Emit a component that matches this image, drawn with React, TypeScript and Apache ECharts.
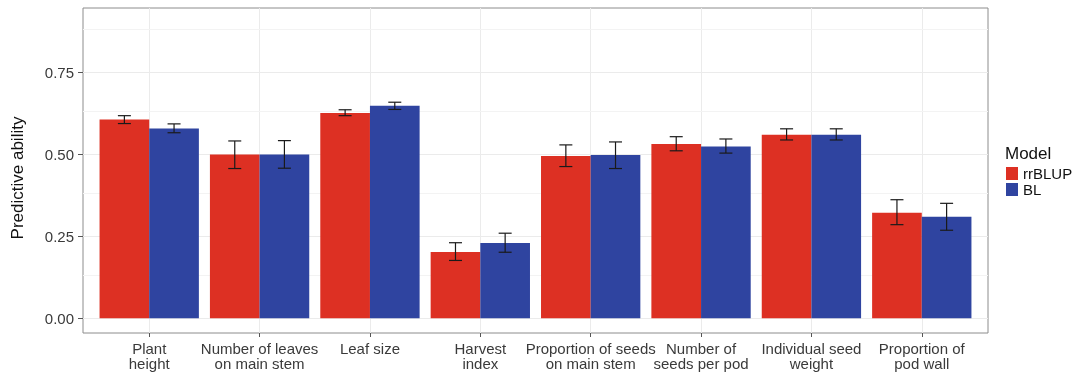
import React, { useEffect, useRef } from 'react';
import * as echarts from 'echarts';

const categories = [
  'Plant\nheight',
  'Number of leaves\non main stem',
  'Leaf size',
  'Harvest\nindex',
  'Proportion of seeds\non main stem',
  'Number of\nseeds per pod',
  'Individual seed\nweight',
  'Proportion of\npod wall',
];
const rrBLUP = [0.605, 0.499, 0.625, 0.202, 0.494, 0.531, 0.559, 0.321];
const rrBLUPLow = [0.593, 0.456, 0.617, 0.176, 0.462, 0.51, 0.543, 0.285];
const rrBLUPHigh = [0.617, 0.54, 0.635, 0.23, 0.528, 0.553, 0.577, 0.361];
const BL = [0.578, 0.499, 0.647, 0.229, 0.497, 0.523, 0.559, 0.309];
const BLLow = [0.565, 0.457, 0.636, 0.201, 0.456, 0.503, 0.543, 0.268];
const BLHigh = [0.592, 0.541, 0.658, 0.259, 0.537, 0.546, 0.577, 0.35];
const yTicks = [0, 0.25, 0.5, 0.75];
const yMinorGrid = [0.125, 0.375, 0.625, 0.875];
const xPositions = categories.map((_, i) => i);

const RED = '#DD3023';
const BLUE = '#2F44A0';
const FONT = '"Liberation Sans", Arial, Helvetica, sans-serif';

function barSeries(name: string, values: number[], color: string, side: number) {
  return {
    type: 'custom',
    name,
    z: 2,
    itemStyle: { color },
    encode: { x: 0, y: 1 },
    data: values.map((v, i) => [i, v]),
    renderItem: (_params: any, api: any) => {
      const i = api.value(0);
      const v = api.value(1);
      const a = api.coord([side < 0 ? i - 0.45 : i, v]);
      const b = api.coord([side < 0 ? i : i + 0.45, 0]);
      return {
        type: 'rect',
        shape: { x: a[0], y: a[1], width: b[0] - a[0], height: b[1] - a[1] },
        style: { fill: color },
      };
    },
  };
}

function errSeries(low: number[], high: number[], side: number) {
  return {
    type: 'custom',
    z: 3,
    silent: true,
    encode: { x: 0, y: [1, 2] },
    data: low.map((l, i) => [i, l, high[i]]),
    renderItem: (_params: any, api: any) => {
      const x = api.value(0) + side * 0.225;
      const lo = api.coord([x, api.value(1)]);
      const hi = api.coord([x, api.value(2)]);
      const hw = 6.5;
      const st = { stroke: '#1a1a1a', lineWidth: 1.2 };
      return {
        type: 'group',
        children: [
          { type: 'line', shape: { x1: lo[0], y1: lo[1], x2: hi[0], y2: hi[1] }, style: st },
          { type: 'line', shape: { x1: lo[0] - hw, y1: lo[1], x2: lo[0] + hw, y2: lo[1] }, style: st },
          { type: 'line', shape: { x1: hi[0] - hw, y1: hi[1], x2: hi[0] + hw, y2: hi[1] }, style: st },
        ],
      };
    },
  };
}

export default function App() {
  const ref = useRef<HTMLDivElement>(null);
  useEffect(() => {
    if (!ref.current) return;
    const chart = echarts.init(ref.current, undefined, { renderer: 'svg' });
    const red = barSeries('rrBLUP', rrBLUP, RED, -1) as any;
    red.markLine = {
      silent: true,
      z: 1,
      symbol: 'none',
      label: { show: false },
      lineStyle: { color: '#F3F3F3', type: 'solid', width: 1 },
      data: yMinorGrid.map((v) => ({ yAxis: v })),
    };
    chart.setOption({
      animation: false,
      textStyle: { fontFamily: FONT },
      grid: {
        left: 83,
        right: 89,
        top: 8,
        bottom: 40,
        show: true,
        borderColor: '#8C8C8C',
        borderWidth: 1,
        backgroundColor: '#fff',
      },
      xAxis: {
        type: 'value',
        min: -0.6,
        max: 7.6,
        axisLine: { show: false, onZero: false },
        axisTick: {
          show: true,
          customValues: xPositions,
          length: 4,
          lineStyle: { color: '#555' },
        },
        axisLabel: {
          customValues: xPositions,
          formatter: (v: number) => categories[Math.round(v)] ?? '',
          color: '#3a3a3a',
          fontSize: 15,
          lineHeight: 15,
          margin: 8,
          fontFamily: FONT,
        },
        splitLine: { show: true, lineStyle: { color: '#EBEBEB', width: 1 } },
      },
      yAxis: {
        type: 'value',
        min: -0.045,
        max: 0.945,
        axisLine: { show: false, onZero: false },
        axisTick: {
          show: true,
          customValues: yTicks,
          length: 5,
          lineStyle: { color: '#555' },
        },
        axisLabel: {
          customValues: yTicks,
          formatter: (v: number) => v.toFixed(2),
          color: '#3a3a3a',
          fontSize: 15,
          margin: 9,
          fontFamily: FONT,
        },
        splitLine: { show: true, lineStyle: { color: '#EBEBEB', width: 1 } },
      },
      legend: {
        data: ['rrBLUP', 'BL'],
        orient: 'vertical',
        left: 1006,
        top: 166,
        icon: 'rect',
        itemWidth: 12,
        itemHeight: 13,
        itemGap: 1,
        padding: 0,
        selectedMode: false,
        textStyle: { fontSize: 15, lineHeight: 13, color: '#111', fontFamily: FONT },
      },
      graphic: [
        {
          type: 'text',
          left: 1005,
          top: 145,
          style: { text: 'Model', fontSize: 17, fill: '#111', fontFamily: FONT },
        },
        {
          type: 'text',
          x: 17,
          y: 178,
          rotation: Math.PI / 2,
          style: {
            text: 'Predictive ability',
            fontSize: 17,
            fill: '#111',
            align: 'center',
            verticalAlign: 'middle',
            fontFamily: FONT,
          },
        },
      ],
      series: [
        red,
        barSeries('BL', BL, BLUE, 1),
        errSeries(rrBLUPLow, rrBLUPHigh, -1),
        errSeries(BLLow, BLHigh, 1),
      ],
    });
    return () => chart.dispose();
  }, []);
  return (
    <div
      ref={ref}
      style={{ position: 'fixed', left: 0, top: 0, width: 1077, height: 373 }}
    />
  );
}
